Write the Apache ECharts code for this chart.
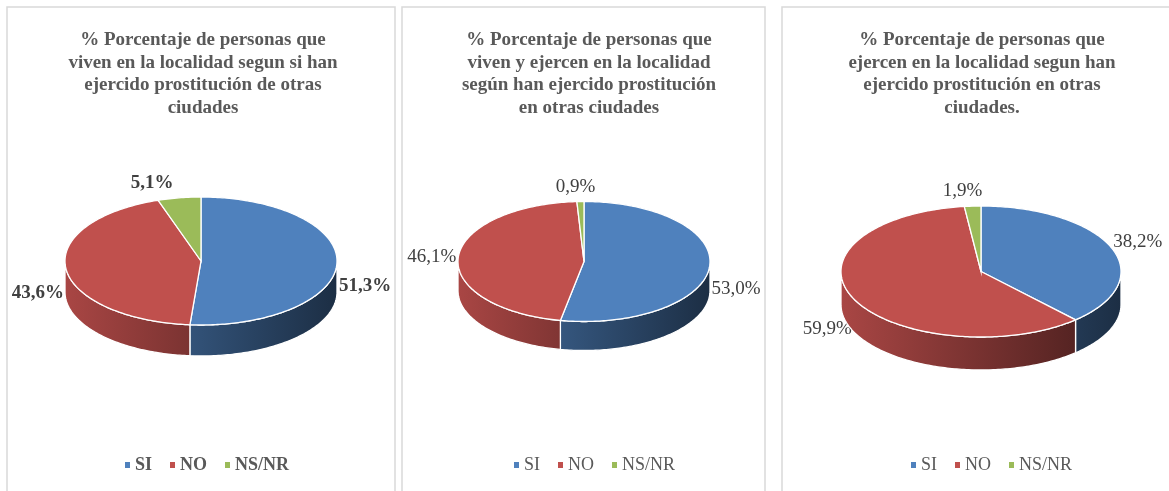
<!DOCTYPE html>
<html style="height: 100%">
    <head>
        <title>Prostitución en otras ciudades</title>
        <script type="text/javascript" src="https://cdn.jsdelivr.net/npm/echarts@6/dist/echarts.min.js"></script>
    </head>
    <body style="height: 100%; margin: 0; background: #fff">
        <div id="target" style="width: 1169px; height: 491px"></div>
<script>

// data
const categories = ["SI", "NO", "NS/NR"];
const titles = [
    "% Porcentaje de personas que\nviven en la localidad segun si han\nejercido prostitución de otras\nciudades",
    "% Porcentaje de personas que\nviven y ejercen en la localidad\nsegún han ejercido prostitución\nen otras ciudades",
    "% Porcentaje de personas que\nejercen en la localidad segun han\nejercido prostitución en otras\nciudades."
];
const viven = [51.3, 43.6, 5.1];
const vivenEjercen = [53.0, 46.1, 0.9];
const ejercen = [38.2, 59.9, 1.9];

const palette = ["#4f81bd", "#c0504d", "#9bbb59"];
const FONT = "Liberation Serif";

// pie geometry for each panel (tilted pies)
const panels = [
    { values: viven, cx: 201, cy: 261, rx: 136, ry: 64, depth: 31, bold: true,
      titleX: 198, legendX: 120, box: [7, 7, 388] },
    { values: vivenEjercen, cx: 584, cy: 261.5, rx: 126, ry: 60, depth: 29, bold: false,
      titleX: 584, legendX: 509, box: [402, 7, 363] },
    { values: ejercen, cx: 981, cy: 271.5, rx: 140, ry: 65.5, depth: 33, bold: false,
      titleX: 977, legendX: 906, box: [782, 7, 400] },
];

function shade(hex, f)
{
    let n = parseInt(hex.slice(1), 16);
    let r = Math.round(((n >> 16) & 255) * f);
    let g = Math.round(((n >> 8) & 255) * f);
    let b = Math.round((n & 255) * f);
    return `rgb(${r},${g},${b})`;
}

function fmt(v)
{
    return v.toFixed(1).replace(".", ",") + "%";
}

function makeRender(cfg)
{
    const total = cfg.values.reduce((a, b) => a + b, 0);
    const starts = [];
    let acc = 0;
    cfg.values.forEach(v => { starts.push(acc / total * 360); acc += v; });

    const pt = (deg, dy) => {
        const r = deg * Math.PI / 180;
        return [cfg.cx + cfg.rx * Math.sin(r), cfg.cy - cfg.ry * Math.cos(r) + (dy || 0)];
    };

    return function (params, api)
    {
        const i = params.dataIndex;
        const v = api.value(0);
        const a = starts[i];
        const b = a + v / total * 360;
        const color = palette[i];
        const children = [];

        // label
        const mid = (a + b) / 2;
        const s = Math.sin(mid * Math.PI / 180);
        const c = Math.cos(mid * Math.PI / 180);
        const rim = pt(mid);
        let lx, align;
        if (Math.abs(s) > 0.5)
        {
            lx = rim[0] + s * 2;
            align = s > 0 ? "left" : "right";
        }
        else
        {
            lx = rim[0] + s * 170;
            align = "center";
        }
        const ly = rim[1] + (c < 0 ? cfg.depth * 0.72 : 0) - c * 15;
        children.push({
            type: "text",
            z2: 1,
            style: {
                text: fmt(v),
                x: lx,
                y: ly,
                align: align,
                verticalAlign: "middle",
                fontFamily: FONT,
                fontSize: 19,
                fontWeight: cfg.bold ? "bold" : "normal",
                fill: "#404040",
            },
        });

        // visible side wall (front half)
        const s0 = Math.max(a, 90), e0 = Math.min(b, 270);
        if (e0 > s0)
        {
            const pts = [];
            for (let d = s0; d < e0; d += 1) pts.push(pt(d));
            pts.push(pt(e0));
            for (let d = e0; d > s0; d -= 1) pts.push(pt(d, cfg.depth));
            pts.push(pt(s0, cfg.depth));
            children.push({
                type: "polygon",
                z2: 5,
                shape: { points: pts },
                style: {
                    fill: new echarts.graphic.LinearGradient(cfg.cx - cfg.rx, 0, cfg.cx + cfg.rx, 0, [
                        { offset: 0, color: shade(color, 0.88) },
                        { offset: 1, color: shade(color, 0.36) },
                    ], true),
                    stroke: "#fff",
                    lineWidth: 1.3,
                },
            });
        }

        // top face
        const top = [[cfg.cx, cfg.cy]];
        for (let d = a; d < b; d += 1) top.push(pt(d));
        top.push(pt(b));
        children.push({
            type: "polygon",
            z2: 10,
            shape: { points: top },
            style: { fill: color, stroke: "#fff", lineWidth: 1.3 },
        });

        return { type: "group", children: children };
    };
}

let chart = echarts.init(document.getElementById("target"));

let option = {
    animation: false,
    color: palette,
    title: panels.map((p, k) => ({
        text: titles[k],
        left: p.titleX,
        top: 24,
        textAlign: "center",
        textStyle: {
            fontFamily: FONT,
            fontSize: 19,
            fontWeight: "bold",
            color: "#595959",
            lineHeight: 22.5,
        },
    })),
    legend: panels.map(p => ({
        data: categories,
        left: p.legendX,
        top: 451,
        icon: "rect",
        itemWidth: 5,
        itemHeight: 6,
        itemGap: 18,
        selectedMode: false,
        textStyle: {
            fontFamily: FONT,
            fontSize: 18,
            color: "#595959",
            fontWeight: p.bold ? "bold" : "normal",
        },
    })),
    graphic: panels.map(p => ({
        type: "rect",
        silent: true,
        z: -1,
        shape: { x: p.box[0], y: p.box[1], width: p.box[2], height: 520 },
        style: { fill: "none", stroke: "#d9d9d9", lineWidth: 1.5 },
    })),
    series: [
        // legend provider only
        {
            type: "pie",
            radius: 0,
            center: [-50, -50],
            silent: true,
            label: { show: false },
            data: categories.map((n, i) => ({ name: n, value: 1 })),
        },
    ].concat(panels.map(p => ({
        type: "custom",
        coordinateSystem: "none",
        renderItem: makeRender(p),
        data: p.values.map((v, i) => ({ name: categories[i], value: v })),
    }))),
};

chart.setOption(option);

</script>
    </body>
</html>
